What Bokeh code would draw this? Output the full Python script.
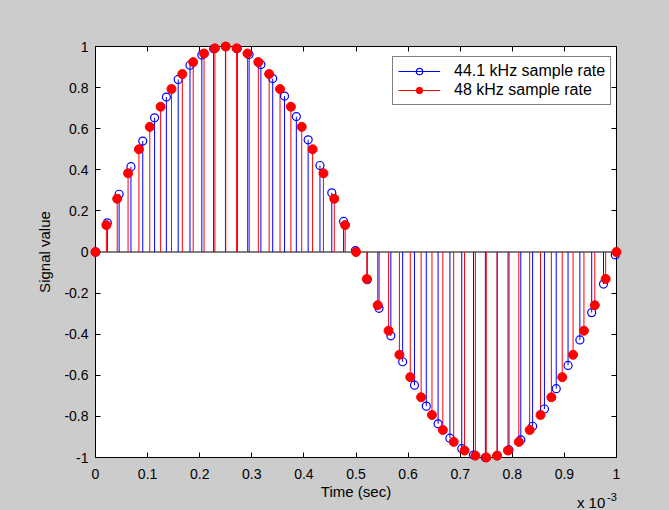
import numpy as np
from bokeh.plotting import figure
from bokeh.models import (ColumnDataSource, FixedTicker, CustomJSTickFormatter, LinearAxis,
                          Legend, LegendItem, Span, Label, Range1d)
from bokeh.embed import file_html
from bokeh.resources import INLINE

# ---- data -------------------------------------------------------------
fs_a = 44100.0   # 44.1 kHz sample rate
fs_b = 48000.0   # 48 kHz sample rate

vals_a = [0.0, 0.142, 0.281, 0.415, 0.540, 0.653, 0.754, 0.840, 0.909, 0.959,
          0.989, 1.000, 0.990, 0.961, 0.912, 0.844, 0.759, 0.659, 0.546, 0.421,
          0.288, 0.149, 0.007, -0.135, -0.274, -0.408, -0.534, -0.648, -0.750,
          -0.836, -0.906, -0.957, -0.988, -1.000, -0.991, -0.963, -0.914, -0.848,
          -0.764, -0.665, -0.552, -0.428, -0.295, -0.156, -0.014]

vals_b = [0.0, 0.131, 0.259, 0.383, 0.500, 0.609, 0.707, 0.793, 0.866, 0.924,
          0.966, 0.991, 1.000, 0.991, 0.966, 0.924, 0.866, 0.793, 0.707, 0.609,
          0.500, 0.383, 0.259, 0.131, 0.0, -0.131, -0.259, -0.383, -0.500, -0.609,
          -0.707, -0.793, -0.866, -0.924, -0.966, -0.991, -1.000, -0.991, -0.966,
          -0.924, -0.866, -0.793, -0.707, -0.609, -0.500, -0.383, -0.259, -0.131, 0.0]

t_a = [i / fs_a for i in range(len(vals_a))]
t_b = [i / fs_b for i in range(len(vals_b))]

x_ticks_ms = [0, 0.1, 0.2, 0.3, 0.4, 0.5, 0.6, 0.7, 0.8, 0.9, 1.0]
y_ticks = [-1, -0.8, -0.6, -0.4, -0.2, 0, 0.2, 0.4, 0.6, 0.8, 1]

label_a = "44.1 kHz sample rate"
label_b = "48 kHz sample rate"

src_a = ColumnDataSource(dict(t=t_a, v=vals_a, z=[0.0] * len(vals_a)))
src_b = ColumnDataSource(dict(t=t_b, v=vals_b, z=[0.0] * len(vals_b)))

# ---- figure -----------------------------------------------------------
FONT = "Liberation Sans"
BG = "#cccccc"

p = figure(width=669, height=510, output_backend="svg", toolbar_location=None,
           x_range=Range1d(0, 0.001), y_range=Range1d(-1, 1),
           min_border_left=95, min_border_right=53, min_border_top=46, min_border_bottom=53)
p.background_fill_color = "white"
p.border_fill_color = BG
p.outline_line_color = "black"
p.outline_line_width = 1
p.grid.visible = False

xt = FixedTicker(ticks=[v / 1000.0 for v in x_ticks_ms])
yt = FixedTicker(ticks=y_ticks)

for ax in (p.xaxis[0], p.yaxis[0]):
    ax.major_tick_in = 5
    ax.major_tick_out = 0
    ax.minor_tick_line_color = None
    ax.axis_line_color = "black"
    ax.major_tick_line_color = "black"
    ax.major_label_text_font = FONT
    ax.major_label_text_font_size = "14px"
    ax.major_label_text_color = "black"
    ax.axis_label_text_font = FONT
    ax.axis_label_text_font_size = "15px"
    ax.axis_label_text_font_style = "normal"
    ax.axis_label_text_color = "black"

p.xaxis[0].ticker = xt
p.yaxis[0].ticker = yt
p.xaxis[0].formatter = CustomJSTickFormatter(code="return (Math.round(tick*1e4)/10).toString();")
p.yaxis[0].formatter = CustomJSTickFormatter(code="return (Math.round(tick*10)/10).toString();")
p.xaxis[0].axis_label = "Time (sec)"
p.yaxis[0].axis_label = "Signal value"
p.xaxis[0].major_label_standoff = 11
p.xaxis[0].axis_label_standoff = 1
p.yaxis[0].major_label_standoff = 7
p.yaxis[0].axis_label_standoff = 8

# mirrored ticks on top and right
for ticker, side in ((xt, "above"), (yt, "right")):
    ax = LinearAxis(ticker=ticker, axis_line_color=None, major_tick_in=5, major_tick_out=0,
                    minor_tick_line_color=None, major_tick_line_color="black",
                    major_label_text_color=None, major_label_text_font_size="1px",
                    major_label_standoff=0)
    p.add_layout(ax, side)

# baseline
p.add_layout(Span(location=0, dimension="width", line_color="black", line_width=1,
                  level="underlay"))

# 44.1 kHz stems (blue, open circles)
seg_a = p.segment(x0="t", y0="z", x1="t", y1="v", source=src_a, line_color="blue", line_width=1)
sc_a = p.scatter(x="t", y="v", source=src_a, marker="circle", size=8,
                 fill_color=None, line_color="blue", line_width=1.2, level="overlay")

# 48 kHz stems (red, filled circles)
seg_b = p.segment(x0="t", y0="z", x1="t", y1="v", source=src_b, line_color="red", line_width=1)
sc_b = p.scatter(x="t", y="v", source=src_b, marker="circle", size=9,
                 fill_color="red", line_color="red", line_width=1, level="overlay")

legend = Legend(items=[LegendItem(label=label_a, renderers=[seg_a, sc_a]),
                       LegendItem(label=label_b, renderers=[seg_b, sc_b])],
                location=(297, 352), padding=5, spacing=1, glyph_width=42, glyph_height=16,
                label_standoff=14, label_text_font=FONT, label_text_font_size="16px",
                label_text_color="black", border_line_color="black", border_line_width=1,
                background_fill_color="white", background_fill_alpha=1.0, margin=0)
p.add_layout(legend, "center")

# exponent label (placed in a side panel so it is not clipped to the frame)
p.add_layout(Label(x=0.000924, y=-1.219, text="x 10",
                   text_font=FONT, text_font_size="15px", text_color="black",
                   text_baseline="alphabetic"), "right")
p.add_layout(Label(x=0.000982, y=-1.192, text="-3",
                   text_font=FONT, text_font_size="11px", text_color="black",
                   text_baseline="alphabetic"), "right")

html = file_html(p, INLINE, title="stem plot")
html = html.replace("<head>", "<head><style>body{background:#cccccc;}</style>", 1)
open("out.html", "w").write(html)
